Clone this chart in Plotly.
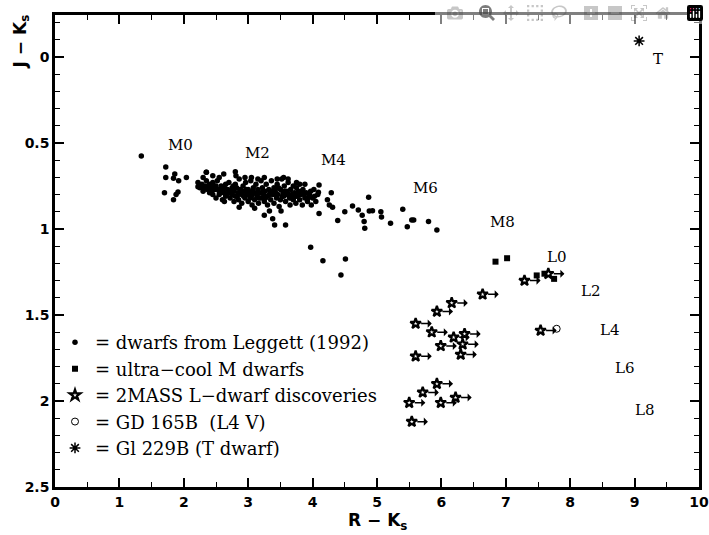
import plotly.graph_objects as go

# ---- data (R-Ks, J-Ks) ----
leggett_dwarfs = [
    (1.34, 0.576), (1.72, 0.64), (1.72, 0.70), (1.86, 0.68), (1.84, 0.705), (1.92, 0.72),
    (2.04, 0.70), (1.70, 0.79), (1.91, 0.785), (1.88, 0.80), (1.84, 0.83),
    (2.22, 0.73), (2.22, 0.755), (2.35, 0.67), (2.45, 0.69), (2.30, 0.70),
    (2.80, 0.667), (2.81, 0.69), (2.63, 0.84), (2.86, 0.874), (3.10, 0.88),
    (3.25, 0.92), (3.38, 0.94), (3.41, 0.977), (3.58, 0.977), (3.51, 0.895), (3.33, 0.895),
    (4.10, 0.744), (4.09, 0.787), (4.29, 0.79), (4.23, 0.83), (4.26, 0.86), (4.31, 0.874),
    (4.10, 0.91), (4.39, 0.95), (4.50, 0.90), (4.62, 0.866), (4.71, 0.89), (4.77, 0.92),
    (4.80, 0.957), (4.81, 0.996), (4.87, 0.816), (4.88, 0.895), (4.93, 0.894), (5.06, 0.90),
    (5.07, 0.93), (5.21, 0.967), (3.97, 1.106), (4.16, 1.184), (4.51, 1.174), (4.44, 1.267),
    (5.40, 0.886), (5.47, 0.987), (5.54, 0.948), (5.57, 0.948), (5.80, 0.957), (5.93, 1.006),
    # dense band
    (2.25, 0.76), (2.28, 0.74), (2.30, 0.78), (2.33, 0.75), (2.35, 0.72), (2.37, 0.77),
    (2.40, 0.74), (2.40, 0.79), (2.42, 0.76), (2.45, 0.73), (2.45, 0.80), (2.48, 0.77),
    (2.50, 0.75), (2.50, 0.82), (2.52, 0.72), (2.55, 0.78), (2.55, 0.80), (2.58, 0.75),
    (2.60, 0.77), (2.60, 0.83), (2.62, 0.79), (2.65, 0.74), (2.65, 0.81), (2.68, 0.77),
    (2.70, 0.79), (2.70, 0.73), (2.72, 0.82), (2.75, 0.76), (2.75, 0.80), (2.78, 0.78),
    (2.78, 0.84), (2.80, 0.74), (2.80, 0.81), (2.82, 0.76), (2.84, 0.79), (2.85, 0.83),
    (2.86, 0.71), (2.88, 0.77), (2.90, 0.80), (2.90, 0.85), (2.92, 0.75), (2.94, 0.78),
    (2.95, 0.82), (2.96, 0.73), (2.98, 0.80), (3.00, 0.77), (3.00, 0.84), (3.02, 0.79),
    (3.04, 0.72), (3.05, 0.81), (3.06, 0.86), (3.08, 0.76), (3.10, 0.79), (3.10, 0.83),
    (3.12, 0.74), (3.14, 0.81), (3.15, 0.77), (3.16, 0.85), (3.18, 0.79), (3.20, 0.72),
    (3.20, 0.82), (3.22, 0.76), (3.24, 0.80), (3.25, 0.84), (3.26, 0.78), (3.28, 0.74),
    (3.30, 0.81), (3.30, 0.86), (3.32, 0.77), (3.34, 0.79), (3.35, 0.83), (3.36, 0.72),
    (3.38, 0.80), (3.40, 0.76), (3.40, 0.85), (3.42, 0.78), (3.44, 0.82), (3.45, 0.74),
    (3.46, 0.80), (3.48, 0.87), (3.50, 0.77), (3.50, 0.83), (3.52, 0.71), (3.54, 0.79),
    (3.55, 0.81), (3.56, 0.75), (3.58, 0.84), (3.60, 0.78), (3.60, 0.80), (3.62, 0.73),
    (3.64, 0.82), (3.65, 0.86), (3.66, 0.77), (3.68, 0.80), (3.70, 0.75), (3.70, 0.83),
    (3.72, 0.79), (3.74, 0.85), (3.75, 0.76), (3.76, 0.81), (3.78, 0.78), (3.80, 0.83),
    (3.80, 0.74), (3.82, 0.80), (3.84, 0.86), (3.85, 0.77), (3.88, 0.82), (3.90, 0.79),
    (3.92, 0.84), (3.95, 0.80), (3.98, 0.86), (4.00, 0.82), (4.02, 0.77), (4.05, 0.84),
    (4.08, 0.80),
    (2.35, 0.67), (2.55, 0.70), (2.62, 0.68), (2.95, 0.70), (3.05, 0.70), (3.15, 0.71),
    (3.25, 0.70), (3.45, 0.71), (3.55, 0.70), (3.62, 0.71), (3.75, 0.73), (3.88, 0.74),
    (2.32, 0.76), (2.38, 0.75), (2.43, 0.78), (2.47, 0.75), (2.53, 0.77), (2.57, 0.79),
    (2.63, 0.76), (2.67, 0.80), (2.73, 0.78), (2.77, 0.75), (2.83, 0.81), (2.87, 0.79),
    (2.93, 0.81), (2.97, 0.77), (3.03, 0.82), (3.07, 0.78), (3.13, 0.80), (3.17, 0.82),
    (3.23, 0.78), (3.27, 0.82), (3.33, 0.80), (3.37, 0.78), (3.43, 0.80), (3.47, 0.76),
    (3.53, 0.81), (3.57, 0.78), (3.63, 0.80), (3.67, 0.82), (3.73, 0.81), (3.77, 0.80),
    (3.83, 0.78), (3.87, 0.80), (3.93, 0.82), (3.97, 0.78), (4.03, 0.81),
]
dwarf_rk = [p[0] for p in leggett_dwarfs]
dwarf_jk = [p[1] for p in leggett_dwarfs]

ultracool_rk = [6.84, 7.02, 7.48, 7.60, 7.75]
ultracool_jk = [1.19, 1.17, 1.27, 1.26, 1.29]

ldwarf_rk = [7.29, 7.66, 6.64, 6.16, 5.93, 5.60, 5.85, 6.19, 6.36, 5.99, 6.33, 6.30, 5.60,
             7.54, 5.93, 5.71, 5.50, 5.99, 6.22, 5.54]
ldwarf_jk = [1.30, 1.26, 1.38, 1.43, 1.48, 1.55, 1.60, 1.63, 1.61, 1.68, 1.67, 1.73, 1.74,
             1.59, 1.90, 1.95, 2.01, 2.01, 1.98, 2.12]
arrow_len = 0.25  # lower limits in R-Ks

gd165b_rk = [7.79]
gd165b_jk = [1.58]

gl229b_rk = [9.07]
gl229b_jk = [-0.093]

sptype_labels = ["M0", "M2", "M4", "M6", "M8", "L0", "L2", "L4", "L6", "L8", "T"]
sptype_rk = [1.95, 3.14, 4.33, 5.76, 6.95, 7.79, 8.33, 8.62, 8.85, 9.16, 9.37]
sptype_jk = [0.51, 0.56, 0.60, 0.76, 0.96, 1.16, 1.36, 1.59, 1.81, 2.05, 0.01]

legend_names = ["= dwarfs from Leggett (1992)", "= ultra\u2212cool M dwarfs",
                "= 2MASS L\u2212dwarf discoveries", "= GD 165B\u00a0\u00a0(L4 V)",
                "= Gl 229B (T dwarf)"]

# ---- figure ----
fig = go.Figure()
fig.add_trace(go.Scatter(x=dwarf_rk, y=dwarf_jk, mode="markers", name=legend_names[0],
                         marker=dict(symbol="circle", size=5.5, color="black")))
fig.add_trace(go.Scatter(x=ultracool_rk, y=ultracool_jk, mode="markers", name=legend_names[1],
                         marker=dict(symbol="square", size=6, color="black")))
fig.add_trace(go.Scatter(x=ldwarf_rk, y=ldwarf_jk, mode="markers", name=legend_names[2],
                         marker=dict(symbol="star-open", size=8, color="black",
                                     line=dict(width=2.2, color="black"))))
fig.add_trace(go.Scatter(x=gd165b_rk, y=gd165b_jk, mode="markers", name=legend_names[3],
                         marker=dict(symbol="circle-open", size=7, color="black",
                                     line=dict(width=1, color="black"))))
fig.add_trace(go.Scatter(x=gl229b_rk, y=gl229b_jk, mode="markers", name=legend_names[4],
                         marker=dict(symbol="asterisk-open", size=9, color="black",
                                     line=dict(width=1.5, color="black"))))

annotations = []
for xr, yj in zip(ldwarf_rk, ldwarf_jk):
    annotations.append(dict(x=xr + arrow_len, y=yj, ax=xr, ay=yj, xref="x", yref="y",
                            axref="x", ayref="y", showarrow=True, arrowhead=1,
                            arrowsize=0.9, arrowwidth=1.5, arrowcolor="black",
                            startstandoff=4, text=""))
for lab, xr, yj in zip(sptype_labels, sptype_rk, sptype_jk):
    annotations.append(dict(x=xr, y=yj, xref="x", yref="y", text=lab, showarrow=False,
                            font=dict(family="DejaVu Serif", size=15, color="black")))
annotations.append(dict(x=0.5, y=-0.074, xref="paper", yref="paper",
                        text="R \u2212 K<sub>s</sub>", showarrow=False,
                        yanchor="middle", xanchor="center",
                        font=dict(family="DejaVu Sans", size=17, color="black", weight="bold")))
annotations.append(dict(x=-0.052, y=0.943, xref="paper", yref="paper",
                        text="J \u2212 K<sub>s</sub>", showarrow=False, textangle=-90,
                        yanchor="middle", xanchor="center",
                        font=dict(family="DejaVu Sans", size=17, color="black", weight="bold")))

axis_common = dict(showgrid=False, zeroline=False, showline=True, linecolor="black",
                   linewidth=2.5, mirror="allticks", ticks="inside", tickcolor="black",
                   tickwidth=1.5, ticklen=9, automargin=False, ticklabeloverflow="allow",
                   tickfont=dict(family="DejaVu Sans", size=14, color="black", weight="bold"))

fig.update_layout(
    width=709, height=535,
    margin=dict(l=55, r=10, t=15, b=48),
    paper_bgcolor="white", plot_bgcolor="white",
    showlegend=True,
    legend=dict(x=0.0, y=0.345, xanchor="left", yanchor="top",
                bgcolor="rgba(0,0,0,0)",
                font=dict(family="DejaVu Serif", size=18, color="black"),
                itemsizing="trace", tracegroupgap=0),
    annotations=annotations,
    xaxis=dict(range=[0, 10], dtick=1, tick0=0,
               minor=dict(ticks="inside", dtick=0.5, ticklen=5, tickwidth=1.2,
                          tickcolor="black"),
               **axis_common),
    yaxis=dict(range=[2.5, -0.244], dtick=0.5, tick0=0,
               minor=dict(ticks="inside", dtick=0.1, ticklen=5, tickwidth=1.2,
                          tickcolor="black"),
               **axis_common),
)

# remove the page's default body margin so the figure fills the window exactly
page_js = ("document.body.style.margin='0';"
           "document.body.style.overflow='hidden';"
           "document.documentElement.style.overflow='hidden';")
fig.write_html("out.html", post_script=page_js)
